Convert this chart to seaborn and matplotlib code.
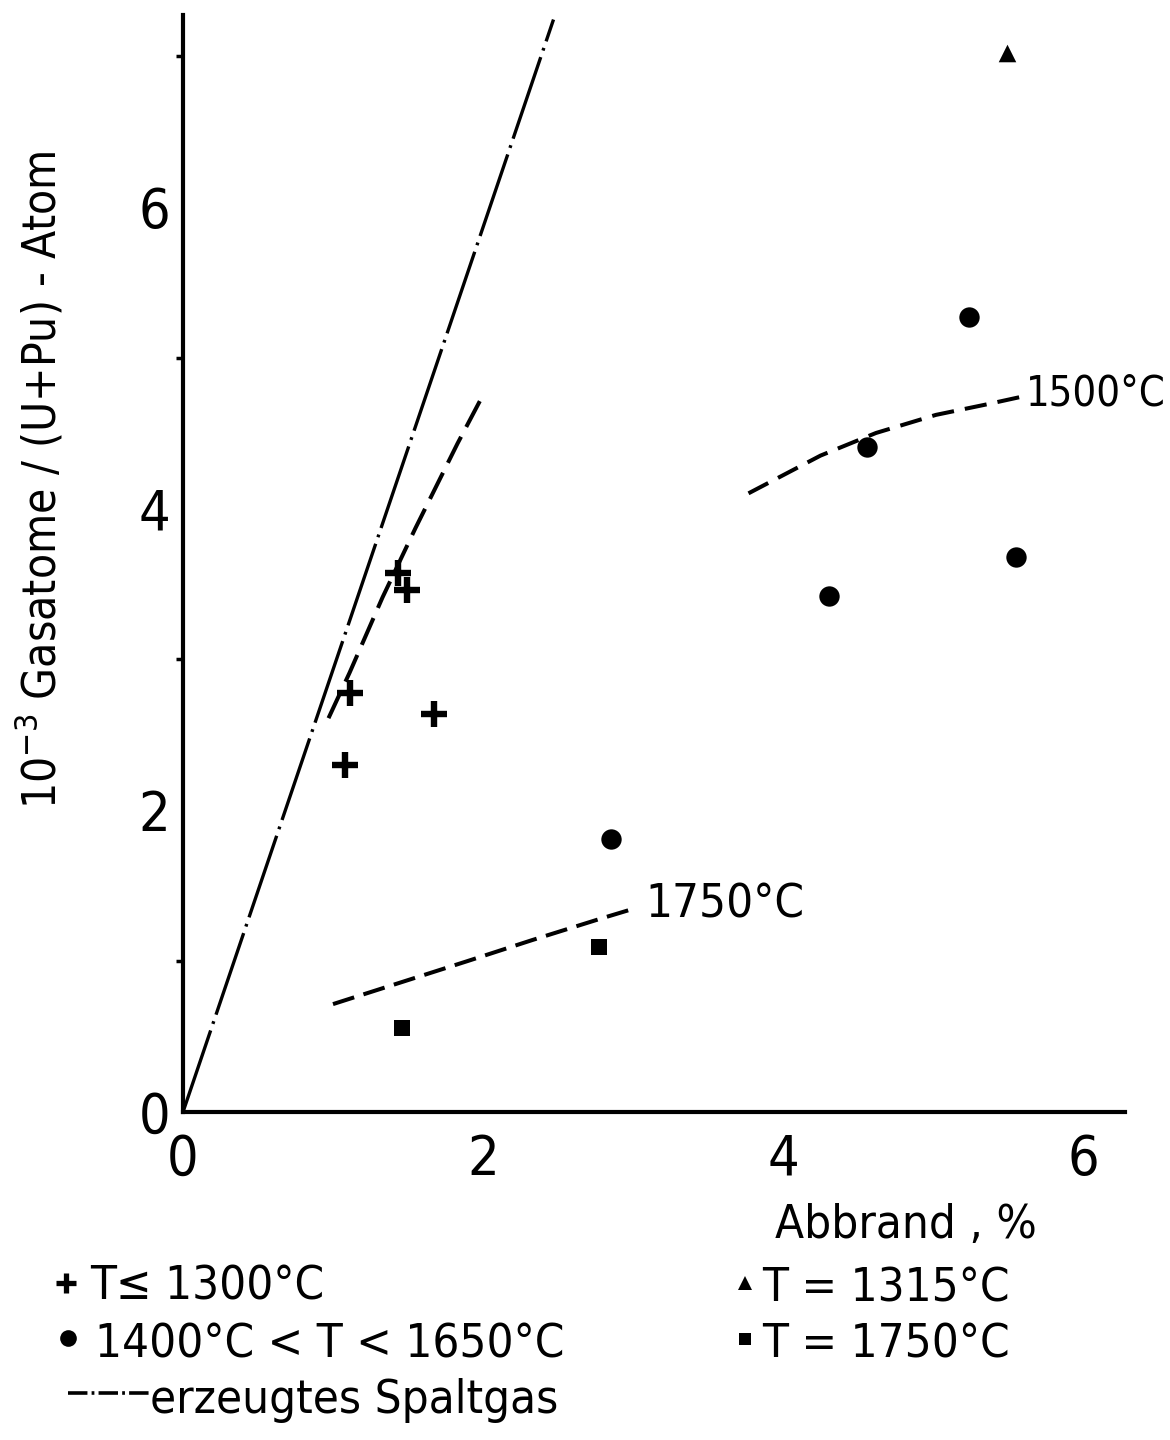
import numpy as np
import pandas as pd
import matplotlib
matplotlib.use("Agg")
import matplotlib.pyplot as plt
from matplotlib import font_manager
from matplotlib.lines import Line2D
import seaborn as sns

# Burn-up (%) and retained fission gas (1e-3 gas atoms per (U+Pu) atom)
cross_x = [1.43, 1.49, 1.11, 1.67, 1.08]
cross_y = [3.57, 3.46, 2.78, 2.64, 2.30]
circle_x = [2.85, 5.24, 4.56, 4.31, 5.55]
circle_y = [1.81, 5.27, 4.41, 3.42, 3.68]
triangle_x = [5.49]
triangle_y = [7.02]
square_x = [1.46, 2.77]
square_y = [0.555, 1.095]

# Generated fission gas (straight line from the origin)
gen_x = [0.0, 2.47]
gen_y = [0.0, 7.24]

# Hand-drawn trend curves
low_x = [0.97, 1.11, 1.33, 1.55, 1.83, 2.01]
low_y = [2.61, 2.91, 3.41, 3.87, 4.43, 4.77]
c1500_x = [3.77, 4.25, 4.62, 5.02, 5.36, 5.59]
c1500_y = [4.10, 4.35, 4.50, 4.62, 4.69, 4.74]
c1750_x = [1.00, 1.44, 1.89, 2.33, 2.78, 2.98]
c1750_y = [0.715, 0.855, 0.998, 1.14, 1.28, 1.34]

x_ticks = [0, 2, 4, 6]
y_ticks = [0, 2, 4, 6]

sns.set_theme(style="white")

# Prefer a narrow face when one is installed
installed = {f.name for f in font_manager.fontManager.ttflist}
condensed_dejavu = any(
    f.name == "DejaVu Sans" and ("Condensed" in f.fname or str(f.stretch) == "condensed")
    for f in font_manager.fontManager.ttflist
)
if "Liberation Sans Narrow" in installed:
    FONT = ["Liberation Sans Narrow", "DejaVu Sans"]
    STRETCH = "normal"
    FS = 38
elif condensed_dejavu:
    FONT = ["DejaVu Sans"]
    STRETCH = "condensed"
    FS = 34
else:
    FONT = ["DejaVu Sans"]
    STRETCH = "normal"
    FS = 30

plt.rcParams["font.family"] = FONT
plt.rcParams["font.stretch"] = STRETCH
plt.rcParams["mathtext.fontset"] = "custom"
plt.rcParams["mathtext.rm"] = FONT[0] + (":stretch=condensed" if STRETCH == "condensed" else "")
plt.rcParams["mathtext.it"] = plt.rcParams["mathtext.rm"]
plt.rcParams["lines.scale_dashes"] = False

K = "black"

fig = plt.figure(figsize=(11.7, 14.4), dpi=100)
ax = fig.add_axes([183 / 1170, 328 / 1440, (1125 - 183) / 1170, (1112 - 15) / 1440])

# Lines
sns.lineplot(x=gen_x, y=gen_y, ax=ax, color=K, lw=2.4, sort=False,
             estimator=None, linestyle=(0, (62, 5, 2, 5)))
sns.lineplot(x=low_x, y=low_y, ax=ax, color=K, lw=2.9, sort=False,
             estimator=None, linestyle=(0, (21, 8)))
sns.lineplot(x=c1500_x, y=c1500_y, ax=ax, color=K, lw=2.9, sort=False,
             estimator=None, linestyle=(0, (16, 8)))
sns.lineplot(x=c1750_x, y=c1750_y, ax=ax, color=K, lw=2.9, sort=False,
             estimator=None, linestyle=(0, (16, 7)))

# Points
sns.scatterplot(x=cross_x, y=cross_y, ax=ax, marker="+", s=340, color=K,
                linewidth=4.6, zorder=5)
sns.scatterplot(x=circle_x, y=circle_y, ax=ax, marker="o", s=215, color=K,
                linewidth=0, zorder=5)
sns.scatterplot(x=triangle_x, y=triangle_y, ax=ax, marker="^", s=160, color=K,
                linewidth=0, zorder=5)
sns.scatterplot(x=square_x, y=square_y, ax=ax, marker="s", s=130, color=K,
                linewidth=0, zorder=5)

# Curve labels
lab1500 = ax.text(5.62, 4.76, "1500°C", fontsize=FS, va="center", ha="left", color=K)
ax.text(3.08, 1.37, "1750°C", fontsize=FS, va="center", ha="left", color=K)

# Axes styling
ax.set_xlim(0, 6.28)
ax.set_ylim(0, 7.27)
for side in ["top", "right"]:
    ax.spines[side].set_visible(False)
for side in ["left", "bottom"]:
    ax.spines[side].set_linewidth(3)
    ax.spines[side].set_color(K)
ax.set_xticks(x_ticks)
ax.set_xticklabels([str(v) for v in x_ticks])
ax.set_yticks(y_ticks)
ax.set_yticklabels([str(v) for v in y_ticks])
ax.set_yticks([1, 3, 5, 7], minor=True)
ax.tick_params(axis="both", which="major", direction="out", length=7,
               width=2.5, color=K, labelsize=FS + 6, labelcolor=K)
ax.tick_params(axis="x", which="major", pad=8)
ax.tick_params(axis="y", which="major", pad=2)
ax.tick_params(axis="y", which="minor", direction="out", length=5,
               width=2.5, color=K, left=True)
ax.set_xlabel("")
ax.set_ylabel("")

# Axis titles
fig.text(775 / 1170, 1 - 1238 / 1440, "Abbrand , %", fontsize=FS,
         ha="left", va="baseline", color=K)
fig.text(40 / 1170, 1 - 480 / 1440,
         r"10$^{-3}$ Gasatome / (U+Pu) - Atom",
         fontsize=FS - 1, rotation=90, ha="center", va="center", color=K)

# Key below the plot
def key_marker(px, py, marker, ms, mew=0):
    fig.add_artist(Line2D([px / 1170], [1 - py / 1440], marker=marker,
                          markersize=ms, color=K, markeredgewidth=mew,
                          linestyle="none", transform=fig.transFigure))

key_marker(66, 1283, "+", 14, 3.8)
key_marker(68, 1338, "o", 12)
key_marker(745, 1283, "^", 10)
key_marker(745, 1339, "s", 9)
fig.add_artist(Line2D([68 / 1170, 150 / 1170], [1 - 1393 / 1440] * 2,
                      color=K, lw=2.6, linestyle=(0, (14, 3, 2, 3)),
                      transform=fig.transFigure))

fig.text(90 / 1170, 1 - 1300 / 1440, "T≤ 1300°C", fontsize=FS,
         ha="left", va="baseline", color=K)
fig.text(95 / 1170, 1 - 1357 / 1440, "1400°C < T < 1650°C", fontsize=FS,
         ha="left", va="baseline", color=K)
fig.text(150 / 1170, 1 - 1413 / 1440, "erzeugtes Spaltgas", fontsize=FS,
         ha="left", va="baseline", color=K)
fig.text(762 / 1170, 1 - 1302 / 1440, "T = 1315°C", fontsize=FS,
         ha="left", va="baseline", color=K)
fig.text(762 / 1170, 1 - 1357 / 1440, "T = 1750°C", fontsize=FS,
         ha="left", va="baseline", color=K)

# Keep the 1500 °C label inside the canvas
fig.canvas.draw()
bb = lab1500.get_window_extent(fig.canvas.get_renderer())
if bb.x1 > 1166:
    lab1500.set_fontsize(FS * (1166 - bb.x0) / bb.width)

fig.savefig("out.png", dpi=100, facecolor="white")
